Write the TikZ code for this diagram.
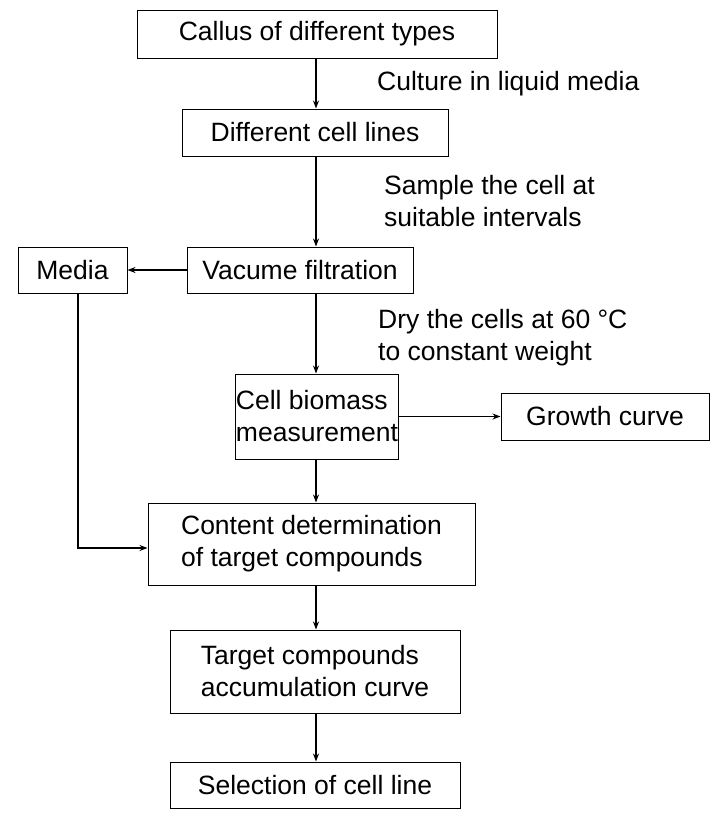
\documentclass[tikz,border=0pt]{standalone}
\usepackage{fontspec}
\setmainfont{Liberation Sans}
\usetikzlibrary{arrows.meta}
\begin{document}
\begin{tikzpicture}[x=1pt,y=-1pt,
  box/.style={draw,line width=1pt,inner sep=0pt,align=left,font=\fontsize{26.5}{32}\selectfont},
  lbl/.style={inner sep=0pt,align=left,anchor=west,font=\fontsize{26.5}{32}\selectfont},
  arr/.style={-{Stealth[length=8pt,width=6pt]},line width=1.4pt}]
\useasboundingbox (0,0) rectangle (720,817);
\node[box,minimum width=360,minimum height=48] (a) at (317,34) {Callus of different types};
\node[box,minimum width=266,minimum height=47] (b) at (315,132.5) {Different cell lines};
\node[box,minimum width=226,minimum height=46] (c) at (300,270) {Vacume filtration};
\node[box,minimum width=109,minimum height=46] (m) at (72.5,270) {Media};
\node[box,minimum width=160,minimum height=85] (d) at (317,416.5) {Cell biomass\\measurement};
\node[box,minimum width=208,minimum height=47] (g) at (605,416.5) {Growth curve};
\node[box,minimum width=327,minimum height=82] (e) at (311.5,544) {Content determination\\of target compounds};
\node[box,minimum width=290,minimum height=83] (f) at (315,671.5) {Target compounds\\accumulation curve};
\node[box,minimum width=290,minimum height=46] (h) at (315,785) {Selection of cell line};
\node[lbl] (l1) at (377,84) {Culture in liquid media};
\node[lbl] (l2) at (384,201) {Sample the cell at\\suitable intervals};
\node[lbl] (l3) at (378,338) {Dry the cells at 60 °C\\to constant weight};
\draw[arr] (a.south -| 316,0) -- (b.north -| 316,0);
\draw[arr] (b.south -| 316,0) -- (c.north -| 316,0);
\draw[arr] (c.south -| 316,0) -- (d.north -| 316,0);
\draw[arr] (d.south -| 316,0) -- (e.north -| 316,0);
\draw[arr] (e.south -| 316,0) -- (f.north -| 316,0);
\draw[arr] (f.south -| 316,0) -- (h.north -| 316,0);
\draw[arr] (c.west) -- (m.east);
\draw[arr] (d.east) -- (g.west);
\draw[arr] (m.south -| 78,0) -- (78,548) -- (e.west |- 0,548);
\end{tikzpicture}
\end{document}
